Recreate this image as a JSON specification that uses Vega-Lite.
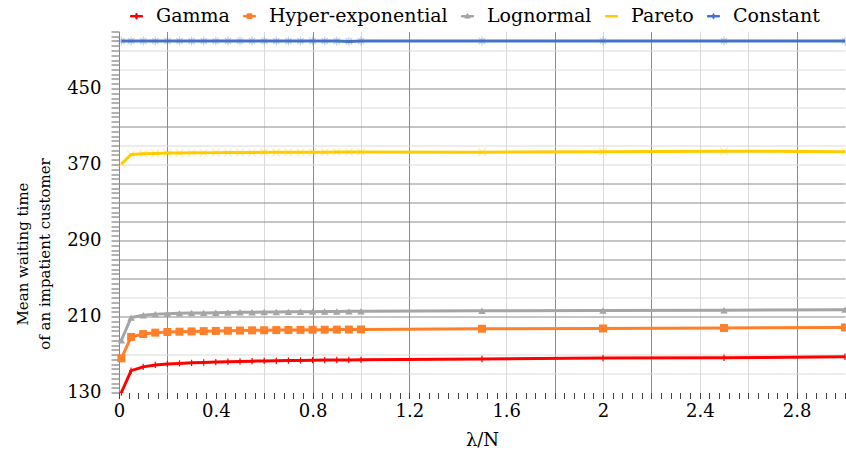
{
  "$schema": "https://vega.github.io/schema/vega-lite/v6.json",
  "autosize": {"type": "none"},
  "padding": {"left": 119, "top": 31.5, "right": 1, "bottom": 68.5},
  "width": 726,
  "height": 361,
  "config": {
    "font": "DejaVu Serif",
    "view": {"stroke": null},
    "axis": {"labelFont": "DejaVu Serif", "titleFont": "DejaVu Serif", "labelColor": "#000", "titleColor": "#000", "titleFontWeight": "normal", "labelFontSize": 18, "titleFontSize": 15},
    "legend": {"labelFont": "DejaVu Serif"}
  },
  "data": {"values": [
    {"x": 0.01, "Gamma": 130, "Hyper-exponential": 166, "Lognormal": 185, "Pareto": 370.5, "Constant": 500},
    {"x": 0.05, "Gamma": 153, "Hyper-exponential": 188.5, "Lognormal": 208.8, "Pareto": 380.5, "Constant": 500},
    {"x": 0.1, "Gamma": 157, "Hyper-exponential": 191.5, "Lognormal": 211.3, "Pareto": 381.3, "Constant": 500},
    {"x": 0.15, "Gamma": 159, "Hyper-exponential": 193, "Lognormal": 212.5, "Pareto": 381.7, "Constant": 500},
    {"x": 0.2, "Gamma": 160, "Hyper-exponential": 193.7, "Lognormal": 213, "Pareto": 382, "Constant": 500},
    {"x": 0.25, "Gamma": 160.6, "Hyper-exponential": 194, "Lognormal": 213.3, "Pareto": 382.2, "Constant": 500},
    {"x": 0.3, "Gamma": 161.2, "Hyper-exponential": 194.3, "Lognormal": 213.6, "Pareto": 382.3, "Constant": 500},
    {"x": 0.35, "Gamma": 161.6, "Hyper-exponential": 194.6, "Lognormal": 213.8, "Pareto": 382.4, "Constant": 500},
    {"x": 0.4, "Gamma": 162, "Hyper-exponential": 194.8, "Lognormal": 214, "Pareto": 382.5, "Constant": 500},
    {"x": 0.45, "Gamma": 162.4, "Hyper-exponential": 195, "Lognormal": 214.2, "Pareto": 382.6, "Constant": 500},
    {"x": 0.5, "Gamma": 162.7, "Hyper-exponential": 195.2, "Lognormal": 214.4, "Pareto": 382.7, "Constant": 500},
    {"x": 0.55, "Gamma": 163, "Hyper-exponential": 195.4, "Lognormal": 214.5, "Pareto": 382.7, "Constant": 500},
    {"x": 0.6, "Gamma": 163.2, "Hyper-exponential": 195.5, "Lognormal": 214.7, "Pareto": 382.8, "Constant": 500},
    {"x": 0.65, "Gamma": 163.4, "Hyper-exponential": 195.7, "Lognormal": 214.8, "Pareto": 382.8, "Constant": 500},
    {"x": 0.7, "Gamma": 163.6, "Hyper-exponential": 195.8, "Lognormal": 214.9, "Pareto": 382.9, "Constant": 500},
    {"x": 0.75, "Gamma": 163.8, "Hyper-exponential": 195.9, "Lognormal": 215, "Pareto": 382.9, "Constant": 500},
    {"x": 0.8, "Gamma": 164, "Hyper-exponential": 196, "Lognormal": 215.1, "Pareto": 383, "Constant": 500},
    {"x": 0.85, "Gamma": 164.1, "Hyper-exponential": 196.1, "Lognormal": 215.2, "Pareto": 383, "Constant": 500},
    {"x": 0.9, "Gamma": 164.2, "Hyper-exponential": 196.2, "Lognormal": 215.3, "Pareto": 383.1, "Constant": 500},
    {"x": 0.95, "Gamma": 164.3, "Hyper-exponential": 196.3, "Lognormal": 215.4, "Pareto": 383.1, "Constant": 499.6},
    {"x": 1.0, "Gamma": 164.4, "Hyper-exponential": 196.4, "Lognormal": 215.5, "Pareto": 383.2, "Constant": 500},
    {"x": 1.5, "Gamma": 165.3, "Hyper-exponential": 197.1, "Lognormal": 216, "Pareto": 383, "Constant": 500},
    {"x": 2.0, "Gamma": 166.2, "Hyper-exponential": 197.4, "Lognormal": 216.4, "Pareto": 383.5, "Constant": 500},
    {"x": 2.5, "Gamma": 166.6, "Hyper-exponential": 197.9, "Lognormal": 216.6, "Pareto": 384, "Constant": 500},
    {"x": 3.0, "Gamma": 167.6, "Hyper-exponential": 198.5, "Lognormal": 217.2, "Pareto": 383.5, "Constant": 500}
  ]},
  "transform": [
    {"fold": ["Gamma", "Hyper-exponential", "Lognormal", "Pareto", "Constant"], "as": ["series", "value"]}
  ],
  "encoding": {
    "x": {
      "field": "x", "type": "quantitative",
      "scale": {"domain": [0, 3], "nice": false, "zero": false},
      "axis": {
        "title": "λ/N",
        "values": [0,0.04,0.08,0.12,0.16,0.2,0.24,0.28,0.32,0.36,0.4,0.44,0.48,0.52,0.56,0.6,0.64,0.68,0.72,0.76,0.8,0.84,0.88,0.92,0.96,1,1.04,1.08,1.12,1.16,1.2,1.24,1.28,1.32,1.36,1.4,1.44,1.48,1.52,1.56,1.6,1.64,1.68,1.72,1.76,1.8,1.84,1.88,1.92,1.96,2,2.04,2.08,2.12,2.16,2.2,2.24,2.28,2.32,2.36,2.4,2.44,2.48,2.52,2.56,2.6,2.64,2.68,2.72,2.76,2.8,2.84,2.88,2.92,2.96,3],
        "format": "~g",
        "labelExpr": "abs(datum.value*2.5 - round(datum.value*2.5)) < 1e-6 ? datum.label : ''",
        "labelPadding": 4,
        "labelFlush": false,
        "labelOverlap": false,
        "domain": false,
        "tickSize": 6,
        "tickColor": "#444",
        "grid": true,
        "gridColor": {"condition": {"test": "indexof([20,80,120,180,220,280], round(datum.value*100)) >= 0", "value": "#8c8c8c"}, "value": "#dadada"},
        "gridOpacity": {"condition": {"test": "round(datum.value*100) % 20 === 0 && datum.value > 0.01 && datum.value < 2.99 && indexof([40,140], round(datum.value*100)) < 0", "value": 1}, "value": 0},
        "titleY": 48,
        "titleBaseline": "middle",
        "titleFontSize": 18
      }
    },
    "y": {
      "field": "value", "type": "quantitative",
      "scale": {"domain": [130, 510], "nice": false, "zero": false},
      "axis": {
        "title": ["Mean waiting time", "of an impatient customer"],
        "values": [130,135,140,145,150,155,160,165,170,175,180,185,190,195,200,205,210,215,220,225,230,235,240,245,250,255,260,265,270,275,280,285,290,295,300,305,310,315,320,325,330,335,340,345,350,355,360,365,370,375,380,385,390,395,400,405,410,415,420,425,430,435,440,445,450,455,460,465,470,475,480,485,490,495,500,505,510],
        "labelExpr": "(round(datum.value)-130) % 80 === 0 && datum.value <= 450 ? datum.label : ''",
        "labelPadding": 10,
        "labelOverlap": false,
        "labelFlush": false,
        "tickSize": 8,
        "tickColor": "#666",
        "domainColor": "#888",
        "grid": true,
        "gridColor": {"condition": {"test": "indexof([210,250,270,290,310,330,350,410,450], round(datum.value)) >= 0", "value": "#8c8c8c"}, "value": "#dadada"},
        "gridOpacity": {"condition": {"test": "(round(datum.value)-10) % 20 === 0 && datum.value > 131 && datum.value < 509 && round(datum.value) !== 190", "value": 1}, "value": 0},
        "titleAngle": -90,
        "titleX": -104,
        "titleY": 222,
        "titleAlign": "center",
        "titleBaseline": "top",
        "titleLineHeight": 22
      }
    }
  },
  "layer": [
    {
      "transform": [{"filter": "datum.series === 'Pareto'"}],
      "mark": {"type": "point", "filled": false, "shape": "M-1,-1L1,1M-1,1L1,-1", "size": 60, "strokeWidth": 1.2, "color": "#ffcc00", "opacity": 0.35}
    },
    {
      "transform": [{"filter": "datum.series === 'Constant'"}],
      "mark": {"type": "point", "filled": false, "shape": "M0,-1V1M-1,0H1M-0.7,-0.7L0.7,0.7M-0.7,0.7L0.7,-0.7", "size": 80, "strokeWidth": 1.2, "color": "#4472c4", "opacity": 0.35}
    },
    {
      "mark": {"type": "line", "strokeWidth": 3},
      "encoding": {
        "color": {"field": "series", "type": "nominal",
          "scale": {"domain": ["Gamma", "Hyper-exponential", "Lognormal", "Pareto", "Constant"], "range": ["#ff0000", "#ff7f2a", "#a5a5a5", "#ffcc00", "#4472c4"]},
          "legend": {
            "title": null, "orient": "none", "direction": "horizontal",
            "legendX": 8, "legendY": -25,
            "symbolSize": 144, "symbolOpacity": 1, "symbolStrokeWidth": 1,
            "labelFontSize": 19, "labelColor": "#000", "labelLimit": 0,
            "labelOffset": 10, "columnPadding": 10,
            "encode": {"symbols": {"update": {
              "shape": {"signal": "datum.value === 'Gamma' ? 'M-1,-0.12H1V0.12H-1Z M-0.1,-0.45H0.1V0.45H-0.1Z' : datum.value === 'Hyper-exponential' ? 'M-1,-0.12H1V0.12H-1Z M-0.4,-0.4H0.4V0.4H-0.4Z' : datum.value === 'Lognormal' ? 'M-1,-0.12H1V0.12H-1Z M0,-0.45L0.45,0.3H-0.45Z' : datum.value === 'Pareto' ? 'M-1,-0.12H1V0.12H-1Z' : 'M-1,-0.12H1V0.12H-1Z M-0.08,-0.4H0.08V0.4H-0.08Z'"},
              "fill": {"signal": "scale('color', datum.value)"},
              "fillOpacity": {"value": 1},
              "stroke": {"signal": "scale('color', datum.value)"},
              "strokeWidth": {"value": 1}
            }}}
          }
        }
      }
    },
    {
      "transform": [{"filter": "datum.series === 'Gamma'"}],
      "mark": {"type": "point", "filled": false, "shape": "M0,-1V1M-0.6,0H0.6", "size": 40, "strokeWidth": 1.2, "color": "#ff0000", "opacity": 1}
    },
    {
      "transform": [{"filter": "datum.series === 'Hyper-exponential'"}],
      "mark": {"type": "point", "filled": true, "shape": "square", "size": 64, "color": "#ff7f2a", "opacity": 1}
    },
    {
      "transform": [{"filter": "datum.series === 'Lognormal'"}],
      "mark": {"type": "point", "filled": true, "shape": "triangle-up", "size": 55, "color": "#a5a5a5", "opacity": 1}
    }
  ]
}
